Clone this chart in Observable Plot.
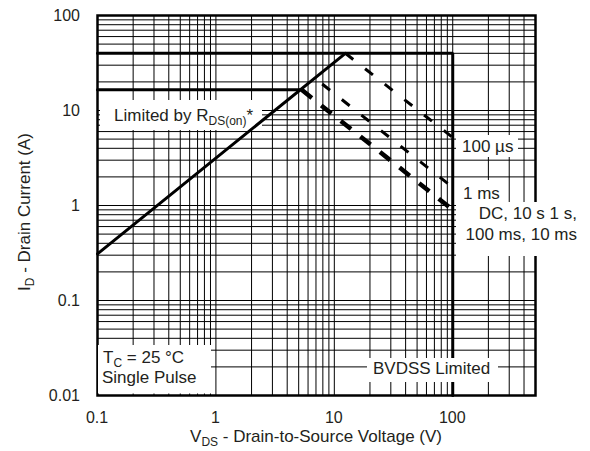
<!DOCTYPE html>
<html><head><meta charset="utf-8">
<script src="https://cdn.jsdelivr.net/npm/d3@7"></script>
<script src="https://cdn.jsdelivr.net/npm/@observablehq/plot@0.6"></script>
<style>body{margin:0;background:#fff} svg{display:block}</style>
</head><body><div id="chart"></div>
<script>
// ---- data ----
const xDomain = [0.1, 500];
const yDomain = [0.01, 100];
const xTickValues = [0.1, 1, 10, 100];
const xTickLabels = ["0.1", "1", "10", "100"];
const yTickValues = [0.01, 0.1, 1, 10, 100];
const yTickLabels = ["0.01", "0.1", "1", "10", "100"];
// BVDSS / package current limit (solid)
const bvdssV = [0.1, 100, 100];
const bvdssI = [40, 40, 0.01];
// pulsed current limit (solid)
const pulseV = [0.1, 5.3];
const pulseI = [16.5, 16.5];
// RDS(on) limit (solid)
const rdsV = [0.1, 12.4];
const rdsI = [0.31, 40];
// 100 us (dashed)
const us100V = [12.4, 100];
const us100I = [40, 5.2];
// 1 ms (dashed)
const ms1V = [7.9, 100];
const ms1I = [19, 1.55];
// DC, 10 s, 1 s, 100 ms, 10 ms (thick dashed)
const dcV = [5.3, 100];
const dcI = [16.5, 0.9];

const FONT = "'Liberation Sans', Arial, Helvetica, sans-serif";
const INK = "#231f20";
const pts = (vs, is) => vs.map((v, k) => ({v, i: is[k]}));
const xGrid = d3.scaleLog().domain(xDomain).ticks();
const yGrid = d3.scaleLog().domain(yDomain).ticks();

// white label boxes (pixel layout), drawn over grid and limits, under RDS / dashed lines
const boxes = [
  [100, 100, 262, 130],
  [456, 135, 518, 157],
  [456, 180, 505, 203],
  [456, 202, 590, 256],
  [98, 345, 211, 393.5],
  [367, 358, 498, 382]
];
const boxMark = () => {
  const g = d3.create("svg:g").attr("fill", "white");
  boxes.forEach(([x1, y1, x2, y2]) =>
    g.append("rect").attr("x", x1).attr("y", y1).attr("width", x2 - x1).attr("height", y2 - y1));
  return g.node();
};

const chart = Plot.plot({
  width: 590, height: 451,
  marginLeft: 97, marginRight: 55, marginTop: 15, marginBottom: 56,
  x: {type: "log", domain: xDomain, axis: null},
  y: {type: "log", domain: yDomain, axis: null},
  style: {fontFamily: FONT, background: "white", overflow: "visible"},
  marks: [
    Plot.ruleX(xGrid, {stroke: "black", strokeWidth: 1}),
    Plot.ruleY(yGrid, {stroke: "black", strokeWidth: 1}),
    Plot.frame({stroke: "black", strokeWidth: 2.5}),
    Plot.line(pts(bvdssV, bvdssI), {x: "v", y: "i", stroke: "black", strokeWidth: 3, strokeLinejoin: "miter"}),
    Plot.line(pts(pulseV, pulseI), {x: "v", y: "i", stroke: "black", strokeWidth: 3}),
    boxMark,
    Plot.line(pts(rdsV, rdsI), {x: "v", y: "i", stroke: "black", strokeWidth: 3}),
    Plot.line(pts(us100V, us100I), {x: "v", y: "i", stroke: "black", strokeWidth: 3, strokeDasharray: "10,15", strokeLinecap: "butt"}),
    Plot.line(pts(ms1V, ms1I), {x: "v", y: "i", stroke: "black", strokeWidth: 3, strokeDasharray: "10,15", strokeLinecap: "butt"}),
    Plot.line(pts(dcV, dcI), {x: "v", y: "i", stroke: "black", strokeWidth: 4.5, strokeDasharray: "13,12", strokeLinecap: "butt"})
  ]
});
document.getElementById("chart").appendChild(chart);

const svg = d3.select(chart);
const sx = chart.scale("x"), sy = chart.scale("y");

const textLayer = svg.append("g").attr("fill", INK).attr("font-family", FONT);
function label(x, y, parts, {size = 17, anchor = "start", transform = null} = {}) {
  const t = textLayer.append("text").attr("font-size", size).attr("text-anchor", anchor);
  if (transform) t.attr("transform", transform); else t.attr("x", x).attr("y", y);
  let shift = 0;
  parts.forEach(p => {
    const sub = typeof p === "object";
    const txt = sub ? p.sub : p;
    const target = sub ? 3.5 : 0;
    const ts = t.append("tspan").text(txt).attr("dy", target - shift);
    if (sub) ts.attr("font-size", 12);
    shift = target;
  });
  return t;
}

// tick labels
xTickValues.forEach((v, k) => label(sx.apply(v), 422.5, [xTickLabels[k]], {size: 16, anchor: "middle"}));
yTickValues.forEach((v, k) => label(80, sy.apply(v) + 5.7, [yTickLabels[k]], {size: 16, anchor: "end"}));

// axis titles
label(316, 442, ["V", {sub: "DS"}, " - Drain-to-Source Voltage (V)"], {anchor: "middle"});
label(0, 0, ["I", {sub: "D"}, " - Drain Current (A)"], {anchor: "middle", transform: "translate(30,212) rotate(-90)"});

// annotations
label(114, 121, ["Limited by R", {sub: "DS(on)"}, "*"]);
label(462, 152, ["100 µs"]);
label(463, 199, ["1 ms"]);
label(577, 219, ["DC, 10 s 1 s,"], {anchor: "end"});
label(577, 240, ["100 ms, 10 ms"], {anchor: "end"});
label(103, 363, ["T", {sub: "C"}, " = 25 °C"]);
label(102, 383, ["Single Pulse"]);
label(373, 374, ["BVDSS Limited"]);
</script></body></html>
